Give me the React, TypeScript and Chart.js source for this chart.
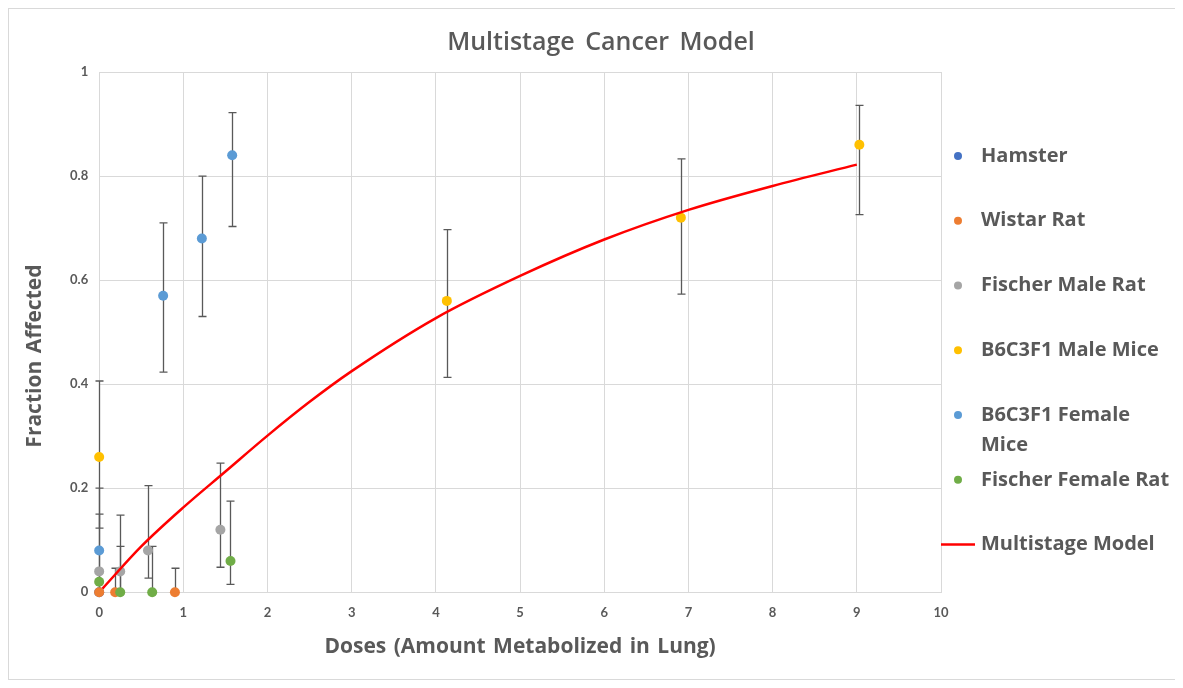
import { useEffect, useRef } from "react";
import { Chart, registerables } from "chart.js";

Chart.register(...registerables);

const seriesNames = [
  "Hamster",
  "Wistar Rat",
  "Fischer Male Rat",
  "B6C3F1 Male Mice",
  "B6C3F1 Female\nMice",
  "Fischer Female Rat",
];
const seriesColors = ["#4472C4", "#ED7D31", "#A5A5A5", "#FFC000", "#5B9BD5", "#70AD47"];

const hamsterX = [0];
const hamsterY = [0];
const hamsterHi = [0];
const hamsterLo = [0];

const wistarX = [0, 0.19, 0.9];
const wistarY = [0, 0, 0];
const wistarHi = [0, 0.046, 0.046];
const wistarLo = [0, 0, 0];

const fischerMaleX = [0, 0.25, 0.58, 1.44];
const fischerMaleY = [0.04, 0.04, 0.08, 0.12];
const fischerMaleHi = [0.15, 0.148, 0.205, 0.248];
const fischerMaleLo = [0, 0, 0.027, 0.048];

const maleMiceX = [0, 4.13, 6.91, 9.03];
const maleMiceY = [0.26, 0.56, 0.72, 0.86];
const maleMiceHi = [0.406, 0.697, 0.833, 0.936];
const maleMiceLo = [0.123, 0.413, 0.573, 0.726];

const femaleMiceX = [0, 0.76, 1.22, 1.58];
const femaleMiceY = [0.08, 0.57, 0.68, 0.84];
const femaleMiceHi = [0.2, 0.71, 0.8, 0.922];
const femaleMiceLo = [0, 0.423, 0.53, 0.703];

const fischerFemaleX = [0, 0.25, 0.63, 1.56];
const fischerFemaleY = [0.02, 0, 0, 0.06];
const fischerFemaleHi = [0.02, 0.088, 0.088, 0.175];
const fischerFemaleLo = [0.02, 0, 0, 0.015];

const modelName = "Multistage Model";
const modelX = [0.04, 0.5, 1, 1.5, 2, 2.5, 3, 4, 5, 6, 7, 8, 9];
const modelY = [0.007, 0.088, 0.163, 0.232, 0.301, 0.366, 0.425, 0.527, 0.608, 0.678, 0.735, 0.781, 0.822];

const xTicks = [0, 1, 2, 3, 4, 5, 6, 7, 8, 9, 10];
const yTicks = [0, 0.2, 0.4, 0.6, 0.8, 1];

const chartTitle = "Multistage Cancer Model";
const xTitle = "Doses (Amount Metabolized in Lung)";
const yTitle = "Fraction Affected";

const TICK_FONT = "Lato, 'Open Sans', sans-serif";
const FONT = "'Open Sans', Lato, sans-serif";
const TEXT = "#595959";

const seriesX = [hamsterX, wistarX, fischerMaleX, maleMiceX, femaleMiceX, fischerFemaleX];
const seriesY = [hamsterY, wistarY, fischerMaleY, maleMiceY, femaleMiceY, fischerFemaleY];
const seriesHi = [hamsterHi, wistarHi, fischerMaleHi, maleMiceHi, femaleMiceHi, fischerFemaleHi];
const seriesLo = [hamsterLo, wistarLo, fischerMaleLo, maleMiceLo, femaleMiceLo, fischerFemaleLo];

const spacingPlugin = {
  id: "spacing",
  beforeDraw(chart: any) {
    (chart.ctx as any).wordSpacing = "2px";
  },
};

const errorBarPlugin = {
  id: "errorBars",
  beforeDatasetsDraw(chart: any) {
    const { ctx, scales } = chart;
    const xs = scales.x;
    const ys = scales.y;
    ctx.save();
    ctx.strokeStyle = "#595959";
    ctx.lineWidth = 1.3;
    for (let s = 0; s < seriesX.length; s++) {
      for (let i = 0; i < seriesX[s].length; i++) {
        const hi = seriesHi[s][i];
        const lo = seriesLo[s][i];
        if (hi === lo) continue;
        const px = Math.round(xs.getPixelForValue(seriesX[s][i])) + 0.5;
        const pHi = ys.getPixelForValue(hi);
        const pLo = ys.getPixelForValue(lo);
        ctx.beginPath();
        ctx.moveTo(px, pHi);
        ctx.lineTo(px, pLo);
        ctx.moveTo(px - 4, pHi);
        ctx.lineTo(px + 4, pHi);
        if (lo > 0) {
          ctx.moveTo(px - 4, pLo);
          ctx.lineTo(px + 4, pLo);
        }
        ctx.stroke();
      }
    }
    ctx.restore();
  },
};

const textPlugin = {
  id: "texts",
  afterDraw(chart: any) {
    const { ctx, chartArea, width } = chart;
    ctx.save();
    ctx.fillStyle = TEXT;
    ctx.font = `600 25px ${FONT}`;
    ctx.textAlign = "center";
    ctx.textBaseline = "middle";
    (ctx as any).wordSpacing = "4px";
    ctx.fillText(chartTitle, width / 2 + 6, chartArea.top - 29);

    // y axis title
    (ctx as any).wordSpacing = "2px";
    ctx.save();
    ctx.translate(26, (chartArea.top + chartArea.bottom) / 2 + 24);
    ctx.rotate(-Math.PI / 2);
    ctx.font = `bold 21px ${FONT}`;
    ctx.fillText(yTitle, 0, 0);
    ctx.restore();
    (ctx as any).wordSpacing = "0px";

    // legend
    const markerX = chartArea.right + 17;
    const textX = chartArea.right + 40;
    const startY = chartArea.top + 84;
    const step = (chartArea.bottom - chartArea.top) * 0.1245;
    ctx.textAlign = "left";
    ctx.font = `bold 20px ${FONT}`;
    const labels = [...seriesNames, modelName];
    labels.forEach((label, i) => {
      const y = startY + i * step;
      if (i < seriesNames.length) {
        ctx.beginPath();
        ctx.fillStyle = seriesColors[i];
        ctx.arc(markerX, y, 4, 0, Math.PI * 2);
        ctx.fill();
      } else {
        ctx.beginPath();
        ctx.strokeStyle = "#FF0000";
        ctx.lineWidth = 2.5;
        ctx.moveTo(markerX - 17, y);
        ctx.lineTo(markerX + 17, y);
        ctx.stroke();
      }
      ctx.fillStyle = TEXT;
      label.split("\n").forEach((line, j) => {
        ctx.fillText(line, textX, y + j * 30);
      });
    });
    ctx.restore();
  },
};

export default function App() {
  const canvasRef = useRef<HTMLCanvasElement | null>(null);

  useEffect(() => {
    if (!canvasRef.current) return;
    const datasets: any[] = seriesNames.map((name, s) => ({
      label: name,
      data: seriesX[s].map((x, i) => ({ x, y: seriesY[s][i] })),
      backgroundColor: seriesColors[s],
      borderColor: seriesColors[s],
      pointRadius: 5,
      pointBorderWidth: 0,
      showLine: false,
      clip: false,
      order: 10 - s,
    }));
    datasets.push({
      label: modelName,
      data: modelX.map((x, i) => ({ x, y: modelY[i] })),
      borderColor: "#FF0000",
      backgroundColor: "#FF0000",
      borderWidth: 2.5,
      pointRadius: 0,
      showLine: true,
      cubicInterpolationMode: "monotone",
      clip: false,
      order: 0,
    });

    const chart = new Chart(canvasRef.current, {
      type: "scatter",
      data: { datasets },
      plugins: [spacingPlugin, errorBarPlugin, textPlugin],
      options: {
        animation: false,
        responsive: false,
        maintainAspectRatio: false,
        layout: { padding: { left: 50, right: 240, top: 63, bottom: 19 } },
        plugins: {
          legend: { display: false },
          tooltip: { enabled: false },
          title: { display: false },
        },
        scales: {
          x: {
            type: "linear",
            min: 0,
            max: 10,
            afterBuildTicks: (axis: any) => {
              axis.ticks = xTicks.map((v) => ({ value: v }));
            },
            ticks: {
              color: TEXT,
              font: { family: TICK_FONT, size: 13, weight: "bold" },
              padding: 13,
              callback: (v: any) => String(v),
            },
            grid: { color: "#d9d9d9", drawTicks: false, lineWidth: 1 },
            border: { display: true, color: "#d9d9d9" },
            title: {
              display: true,
              text: xTitle,
              color: TEXT,
              font: { family: FONT, size: 21, weight: "bold" },
              padding: { top: 1, bottom: 0 },
            },
          },
          y: {
            type: "linear",
            min: 0,
            max: 1,
            afterBuildTicks: (axis: any) => {
              axis.ticks = yTicks.map((v) => ({ value: v }));
            },
            ticks: {
              color: TEXT,
              font: { family: TICK_FONT, size: 13, weight: "bold" },
              padding: 11,
              callback: (v: any) => String(v),
            },
            grid: { color: "#d9d9d9", drawTicks: false, lineWidth: 1 },
            border: { display: false },
            title: { display: false },
          },
        },
      },
    });
    return () => chart.destroy();
  }, []);

  return (
    <div
      style={{
        width: 1174,
        height: 672,
        border: "1px solid #d9d9d9",
        boxSizing: "border-box",
        background: "#fff",
      }}
    >
      <canvas ref={canvasRef} width={1172} height={670} style={{ display: "block" }} />
    </div>
  );
}
